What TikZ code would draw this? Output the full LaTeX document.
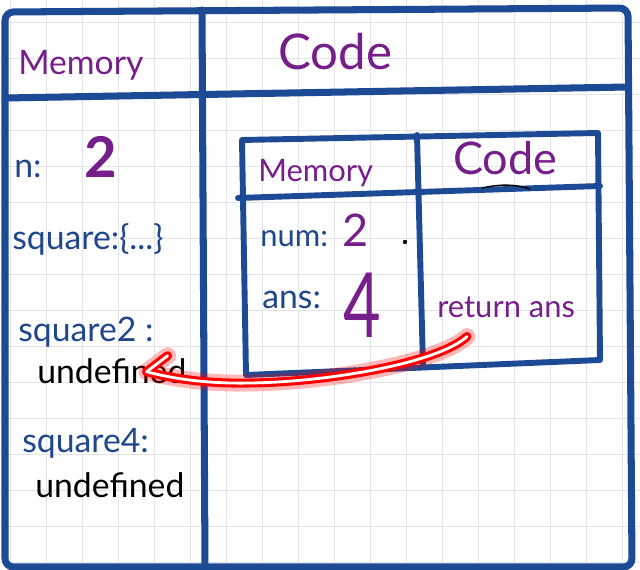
\documentclass[tikz,border=0pt]{standalone}
\usepackage{fontspec}
\setmainfont{Lato}
\usetikzlibrary{arrows.meta,positioning}
\definecolor{board}{RGB}{28,74,148}
\definecolor{ink}{RGB}{118,30,138}
\definecolor{pen}{RGB}{32,70,140}
\definecolor{gridgray}{RGB}{226,228,234}
\tikzset{
  frame/.style={board,line width=5pt,line cap=round,line join=round},
  inframe/.style={board,line width=4.2pt,line cap=round,line join=round},
  word/.style={inner sep=0pt,anchor=base west},
  head/.style={word,text=ink,font=\fontsize{#1}{#1}\selectfont},
  key/.style={word,text=pen,font=\fontsize{#1}{#1}\selectfont},
  plain/.style={word,text=black,font=\fontsize{24}{24}\selectfont},
  glow/.style={draw=red,line width=2.2pt,double=white,double distance=2pt,
    line cap=round,line join=round,
    preaction={draw=red,opacity=0.28,line width=12pt,line cap=round,line join=round}}
}
\begin{document}
\begin{tikzpicture}[x=0.025cm,y=-0.025cm]
% whiteboard grid, pixel units with y pointing down
\useasboundingbox (0,0) rectangle (640,570);
\fill[white] (0,0) rectangle (640,570);
\foreach \g in {10,46,...,640} \draw[gridgray,line width=0.7pt] (\g,0)--(\g,570);
\foreach \g in {22,58,...,570} \draw[gridgray,line width=0.7pt] (0,\g)--(640,\g);
% outer frame
\draw[frame,rounded corners=6pt] (5,567)--(5,12)--(628,8)--(632,567)--cycle;
\draw[frame] (5,98)--(628,87);
\draw[frame] (202,10)--(205,567);
% inner frame
\draw[inframe] (242,140)--(598,133)--(600,360)--(246,375)--cycle;
\draw[inframe] (238,198)--(600,186);
\draw[inframe] (417,135)--(423,366);
\fill[black] (405,242) circle (2.2);
\draw[black,line width=1pt] (482,188) .. controls (500,184) and (515,184) .. (530,189);
% top headers
\node[head=24] (memhead) at (18,75) {Memory};
\node[head=35] (codehead) at (278,70) {Code};
% outer memory
\node[key=24] (nkey) at (14,178) {n:};
\node[head=40,font=\fontsize{40}{40}\selectfont\bfseries,base right=30pt of nkey] (nval) {2};
\node[key=24] (sqkey) at (12,250) {square:\{...\}};
\node[key=24] (sqtwokey) at (18,342) {square2 :};
\node[plain] (sqtwoval) at (37,384) {undefined};
\node[key=24] (sqfourkey) at (22,453) {square4:};
\node[plain] (sqfourval) at (35,498) {undefined};
% inner context
\node[head=22] (innermem) at (258,182) {Memory};
\node[head=32] (innercode) at (453,175) {Code};
\node[key=22] (numkey) at (260,247) {num:};
\node[head=32,base right=10pt of numkey] (numval) {2};
\node[key=24] (anskey) at (262,309) {ans:};
\node[head=64,xscale=0.72] (ansval) at (343,338) {4};
\node[head=22] (ret) at (437,318) {return ans};
% returned value
\draw[glow] ([shift={(30,18)}]ret.south west)
  .. controls ([shift={(2,44)}]ret.south west) and (330,382) .. (250,383)
  .. controls (205,384) and (170,378) .. ([shift={(-40,0)}]sqtwoval.east)
  -- ++(21,-16);
\end{tikzpicture}
\end{document}
